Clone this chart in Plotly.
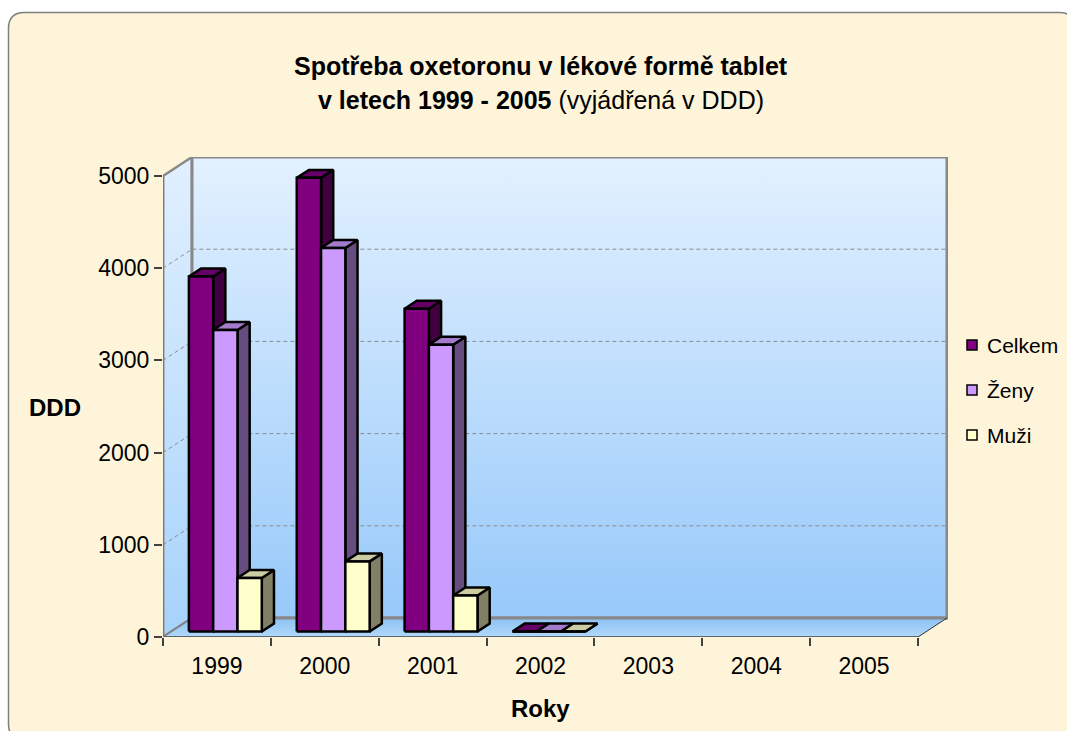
import plotly.graph_objects as go

# ---------------- data ----------------
years = ["1999", "2000", "2001", "2002", "2003", "2004", "2005"]
celkem = [3850, 4920, 3500, 0, None, None, None]
zeny = [3270, 4160, 3110, 0, None, None, None]
muzi = [580, 760, 390, 0, None, None, None]
series_names = ["Celkem", "Ženy", "Muži"]
y_ticks = [0, 1000, 2000, 3000, 4000, 5000]

# ---------------- styling / geometry ----------------
W, H = 1067, 731
L_PX, R_PX, T_PX, B_PX = 163, 948, 157, 637
CAT_PX = (918 - 163) / 7.0
Y_PX_PER = 461 / 5000.0
X_MAX = (R_PX - L_PX) / CAT_PX
Y_MAX = (B_PX - T_PX) / Y_PX_PER
DX = 29 / CAT_PX
DY = 19 / Y_PX_PER
NCAT = len(years)
YTOP = max(y_ticks)

front_cols = ["#800080", "#cc99ff", "#ffffcc"]
top_cols = ["#660066", "#a37acc", "#cccca3"]
side_cols = ["#400040", "#664d80", "#808066"]

BW = 24.3 / CAT_PX
GAP = 1 - 3 * BW
F0, DEPTH = 0.29, 0.42


def px_x(px):
    return (px - L_PX) / (R_PX - L_PX)


def px_y(py):
    return (B_PX - py) / (B_PX - T_PX)


fig = go.Figure()


def poly(xs, ys, fill=None, line_color="black", width=2.5, grad=None, dash=None, closed=True):
    if closed:
        xs = list(xs) + [xs[0]]
        ys = list(ys) + [ys[0]]
    kw = dict(x=xs, y=ys, mode="lines", showlegend=False, hoverinfo="skip",
              line=dict(color=line_color, width=width, dash=dash))
    if grad is not None:
        kw["fill"] = "toself"
        kw["fillgradient"] = dict(type="vertical", colorscale=grad)
    elif fill is not None:
        kw["fill"] = "toself"
        kw["fillcolor"] = fill
    fig.add_trace(go.Scatter(**kw))


# walls
poly([0, DX, DX, 0], [0, DY, YTOP + DY, YTOP],
     grad=[[0, "#a6d2fb"], [1, "#e2f0ff"]], line_color="#8a8a8a", width=2.5)
poly([DX, NCAT + DX, NCAT + DX, DX], [DY, DY, YTOP + DY, YTOP + DY],
     grad=[[0, "#97c9fa"], [1, "#e3f1ff"]], line_color="#888888", width=3)
poly([0, NCAT, NCAT + DX, DX], [0, 0, DY, DY],
     grad=[[0, "#b2d8fb"], [1, "#8cc2f3"]], line_color="rgba(0,0,0,0)", width=0)

# gridlines (dashed) on left & back wall
for v in y_ticks[1:-1]:
    poly([0, DX, NCAT + DX], [v, v + DY, v + DY], line_color="#8c8c8c",
         width=1, dash="4px,3px", closed=False)

# floor edges and axis lines
poly([DX, NCAT + DX], [DY, DY], line_color="#888888", width=3, closed=False)
poly([NCAT, NCAT + DX], [0, DY], line_color="#303030", width=1, closed=False)
poly([0, DX], [0, DY], line_color="#808080", width=1.5, closed=False)
poly([0, NCAT], [0, 0], line_color="#404040", width=1.5, closed=False)
poly([0, 0], [0, YTOP], line_color="#7a7a7a", width=2.5, closed=False)

# bars
all_vals = [celkem, zeny, muzi]
for c in range(NCAT):
    for s, vals in enumerate(all_vals):
        v = vals[c]
        if v is None:
            continue
        x0 = c + GAP / 2 + s * BW + F0 * DX
        x1 = x0 + BW
        yb = F0 * DY
        yt = yb + v
        ddx, ddy = DEPTH * DX, DEPTH * DY
        # side
        poly([x1, x1 + ddx, x1 + ddx, x1], [yb, yb + ddy, yt + ddy, yt], fill=side_cols[s])
        # top
        poly([x0, x1, x1 + ddx, x0 + ddx], [yt, yt, yt + ddy, yt + ddy], fill=top_cols[s])
        # front
        poly([x0, x1, x1, x0], [yb, yb, yt, yt], fill=front_cols[s])

# background rounded frame
x0p, y0p, x1p, y1p, r = 8.5, 12.5, 1075, 740, 16
path = (f"M {px_x(x0p + r)},{px_y(y0p)} L {px_x(x1p - r)},{px_y(y0p)} "
        f"Q {px_x(x1p)},{px_y(y0p)} {px_x(x1p)},{px_y(y0p + r)} "
        f"L {px_x(x1p)},{px_y(y1p - r)} Q {px_x(x1p)},{px_y(y1p)} {px_x(x1p - r)},{px_y(y1p)} "
        f"L {px_x(x0p + r)},{px_y(y1p)} Q {px_x(x0p)},{px_y(y1p)} {px_x(x0p)},{px_y(y1p - r)} "
        f"L {px_x(x0p)},{px_y(y0p + r)} Q {px_x(x0p)},{px_y(y0p)} {px_x(x0p + r)},{px_y(y0p)} Z")
fig.add_shape(type="path", path=path, xref="paper", yref="paper", layer="below",
              fillcolor="#fdf4da", line=dict(color="#7f7f7f", width=1.5))

FONT = "Liberation Sans, Arial, sans-serif"

# manual legend (squares + labels)
legend_y = [345, 390, 435]
for s, name in enumerate(series_names):
    cy = legend_y[s]
    fig.add_shape(type="rect", xref="paper", yref="paper", layer="above",
                  x0=px_x(967), x1=px_x(977), y0=px_y(cy + 5), y1=px_y(cy - 5),
                  fillcolor=front_cols[s], line=dict(color="black", width=1.5))
    fig.add_annotation(x=px_x(985), y=px_y(cy), xref="paper", yref="paper",
                       text=name, showarrow=False,
                       font=dict(family=FONT, size=21, color="black"),
                       xanchor="left", yanchor="middle")

fig.add_annotation(x=px_x(541), y=px_y(66), xref="paper", yref="paper",
                   text="<b>Spotřeba oxetoronu v lékové formě tablet</b>",
                   showarrow=False, font=dict(family=FONT, size=25, color="black"),
                   xanchor="center", yanchor="middle")
fig.add_annotation(x=px_x(541), y=px_y(100), xref="paper", yref="paper",
                   text="<b>v letech 1999 - 2005</b> (vyjádřená v DDD)",
                   showarrow=False, font=dict(family=FONT, size=25, color="black"),
                   xanchor="center", yanchor="middle")
fig.add_annotation(x=px_x(55), y=px_y(407), xref="paper", yref="paper",
                   text="<b>DDD</b>", showarrow=False,
                   font=dict(family=FONT, size=24, color="black"),
                   xanchor="center", yanchor="middle")
fig.add_annotation(x=px_x(540), y=px_y(708), xref="paper", yref="paper",
                   text="<b>Roky</b>", showarrow=False,
                   font=dict(family=FONT, size=24, color="black"),
                   xanchor="center", yanchor="middle")

fig.update_layout(
    width=W, height=H, autosize=False,
    margin=dict(l=L_PX, r=W - R_PX, t=T_PX, b=H - B_PX, pad=0),
    paper_bgcolor="white", plot_bgcolor="rgba(0,0,0,0)",
    font=dict(family=FONT, size=23, color="black"),
    showlegend=False,
    xaxis=dict(range=[0, X_MAX], showgrid=False, zeroline=False, showline=False,
               tickmode="array", tickvals=[i + 0.5 for i in range(NCAT)], ticktext=years,
               ticks="outside", ticklen=8, tickcolor="rgba(0,0,0,0)",
               tickfont=dict(family=FONT, size=23),
               minor=dict(tickmode="array", tickvals=list(range(NCAT + 1)), ticks="outside",
                          ticklen=8, tickcolor="#404040", tickwidth=1.5),
               fixedrange=True),
    yaxis=dict(range=[0, Y_MAX], showgrid=False, zeroline=False, showline=False,
               tickmode="array", tickvals=y_ticks, ticktext=[str(t) for t in y_ticks],
               ticks="outside", ticklen=8, tickcolor="#404040", tickwidth=1.5,
               tickfont=dict(family=FONT, size=23), fixedrange=True),
)

fig.write_html("out.html")
